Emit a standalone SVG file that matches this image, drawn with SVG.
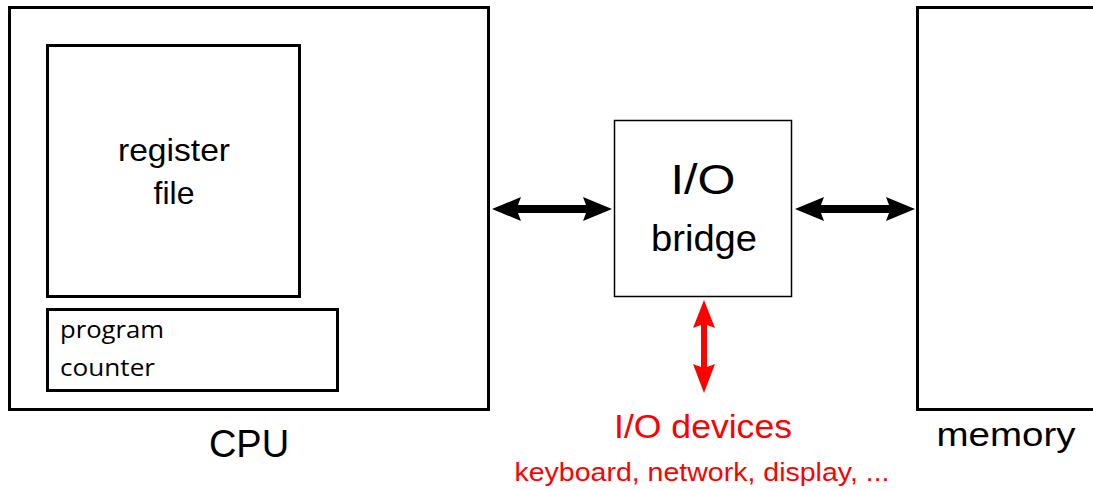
<svg xmlns="http://www.w3.org/2000/svg" width="1093" height="490" viewBox="0 0 1093 490">
<style>
.box{fill:none;stroke:#000;stroke-width:3}
.thin{fill:none;stroke:#000;stroke-width:1.5}
.t{font-family:"Liberation Sans",Arial,sans-serif;fill:#000;text-anchor:middle}
.pc{font-family:"Open Sans","Noto Sans",sans-serif;fill:#000;font-size:24px}
.red{fill:#ff0000}
</style>
<rect width="1093" height="490" fill="#fff"/>
<g id="cpu">
<rect class="box" x="9.5" y="7.5" width="479" height="402"/>
<text class="t" x="249" y="457" font-size="38">CPU</text>
</g>
<g id="register-file">
<rect class="box" x="47.5" y="45.5" width="252" height="251"/>
<text class="t" x="174" y="161" font-size="32" textLength="112" lengthAdjust="spacingAndGlyphs">register</text>
<text class="t" x="174" y="204" font-size="32">file</text>
</g>
<g id="program-counter">
<rect class="box" x="47.5" y="309.5" width="290" height="81"/>
<text class="pc" x="60" y="338" textLength="104" lengthAdjust="spacingAndGlyphs">program</text>
<text class="pc" x="60" y="376" textLength="95" lengthAdjust="spacingAndGlyphs">counter</text>
</g>
<g id="io-bridge">
<rect class="thin" x="614.5" y="120.5" width="177" height="176"/>
<text class="t" x="703" y="194" font-size="42" textLength="65" lengthAdjust="spacingAndGlyphs">I/O</text>
<text class="t" x="704" y="251" font-size="36" textLength="106" lengthAdjust="spacingAndGlyphs">bridge</text>
</g>
<g id="memory">
<rect class="box" x="917.5" y="7.5" width="180" height="402"/>
<text class="t" x="1006" y="446" font-size="34" textLength="139" lengthAdjust="spacingAndGlyphs">memory</text>
</g>
<g id="io-devices">
<text class="t red" x="703" y="438" font-size="34" textLength="178" lengthAdjust="spacingAndGlyphs">I/O devices</text>
<text class="t red" x="702" y="481" font-size="25" textLength="375" lengthAdjust="spacingAndGlyphs">keyboard, network, display, ...</text>
</g>
<g id="connectors">
<polygon points="492,209 521,197 518,205 586,205 583,197 612,209 583,221 586,213 518,213 521,221" fill="#000"/>
<polygon points="795,209 824,197 821,205 889,205 886,197 915,209 886,221 889,213 821,213 824,221" fill="#000"/>
<polygon points="704,300 715,328 707,325 707,367 715,364 704,393 693,364 701,367 701,325 693,328" fill="#ff0000"/>
</g>
</svg>
